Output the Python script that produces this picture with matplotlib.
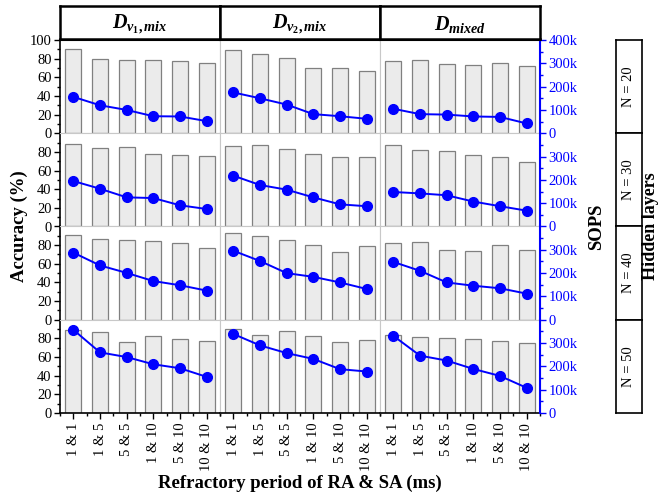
import matplotlib
matplotlib.use('Agg')
import matplotlib.pyplot as plt
from matplotlib.ticker import FixedLocator, FuncFormatter

plt.rcParams['font.family'] = ['Liberation Serif', 'DejaVu Serif']
plt.rcParams['mathtext.fontset'] = 'custom'
plt.rcParams['mathtext.it'] = 'Liberation Serif:italic:bold'
plt.rcParams['mathtext.rm'] = 'Liberation Serif:bold'
plt.rcParams['mathtext.bf'] = 'Liberation Serif:bold'

# ---------------- data ----------------
datasets = [r'$D_{v_1,mix}$', r'$D_{v_2,mix}$', r'$D_{mixed}$']
hidden = ['N = 20', 'N = 30', 'N = 40', 'N = 50']
refractory = ['1 & 1', '1 & 5', '5 & 5', '1 & 10', '5 & 10', '10 & 10']

# accuracy (%) per hidden size: one list per dataset
acc_n20 = [[90, 80, 78.5, 79, 77, 75],
           [89, 84.5, 80.5, 70.5, 70.5, 66.5],
           [78, 79, 74, 73, 75.5, 72]]
acc_n30 = [[89, 84, 85, 78, 77, 76],
           [86.5, 87, 83.5, 78, 74, 75],
           [87.5, 82, 80.5, 77, 75, 69]]
acc_n40 = [[90.5, 87, 85, 84, 82, 77],
           [92.5, 89.5, 86, 80, 72.5, 79],
           [82, 83.5, 75, 74, 80.5, 75]]
acc_n50 = [[88.5, 86.5, 76.5, 83, 79.5, 77],
           [90.5, 84, 87.5, 83, 76, 78.5],
           [83.5, 81, 80.5, 79, 77, 75]]

# SOPS per hidden size: one list per dataset
sops_n20 = [[156000, 120000, 100000, 73000, 72000, 52000],
            [175000, 150000, 123000, 82000, 73000, 62000],
            [105000, 82000, 80000, 72000, 70000, 42000]]
sops_n30 = [[195000, 162000, 125000, 122000, 91000, 75000],
            [218000, 178000, 158000, 125000, 95000, 87000],
            [148000, 142000, 134000, 107000, 87000, 68000]]
sops_n40 = [[288000, 233000, 201000, 166000, 148000, 125000],
            [296000, 252000, 200000, 184000, 160000, 132000],
            [248000, 210000, 160000, 146000, 135000, 112000]]
sops_n50 = [[357000, 260000, 240000, 209000, 192000, 155000],
            [339000, 290000, 257000, 232000, 188000, 178000],
            [331000, 246000, 225000, 189000, 159000, 108000]]

acc_rows = [acc_n20, acc_n30, acc_n40, acc_n50]
sops_rows = [sops_n20, sops_n30, sops_n40, sops_n50]

# ---------------- layout ----------------
W, H = 659, 498
fig = plt.figure(figsize=(W / 100, H / 100), dpi=100)

def fx(x):
    return x / W

def fy(y):
    return 1 - y / H

left, right, top, bottom = 60, 540, 40, 413
ncol, nrow = 3, 4
pw = (right - left) / ncol
ph = (bottom - top) / nrow

BLUE = '#0000ff'
GREY = '#c8c8c8'
TICKFS = 10.5
xpos = [i + 0.5 for i in range(len(refractory))]

for r in range(nrow):
    for c in range(ncol):
        x0 = left + c * pw
        y0 = top + r * ph
        ax = fig.add_axes([fx(x0), fy(y0 + ph), pw / W, ph / H])
        ax.bar(xpos, acc_rows[r][c], width=0.6, color='#ebebeb',
               edgecolor='#808080', linewidth=0.9, zorder=2)
        ax.set_xlim(0, 6)
        ax.set_ylim(0, 100)
        for s in ax.spines.values():
            s.set_color(GREY)
            s.set_linewidth(0.8)
        # left axis
        if c == 0:
            ax.spines['left'].set_color('black')
            ax.spines['left'].set_linewidth(1.2)
            ax.yaxis.set_major_locator(FixedLocator([0, 20, 40, 60, 80, 100] if r == 0 else [0, 20, 40, 60, 80]))
            ax.yaxis.set_minor_locator(FixedLocator([10, 30, 50, 70, 90]))
            ax.tick_params(axis='y', which='major', direction='out', length=4, width=1,
                           labelsize=TICKFS, pad=2)
            ax.tick_params(axis='y', which='minor', direction='out', length=2.5, width=1)
        else:
            ax.set_yticks([])
        # bottom axis
        if r == nrow - 1:
            ax.spines['bottom'].set_color('black')
            ax.spines['bottom'].set_linewidth(1.2)
            ax.set_xticks(xpos)
            ax.set_xticklabels(refractory, rotation=90, fontsize=TICKFS)
            ax.xaxis.set_minor_locator(FixedLocator([0, 1, 2, 3, 4, 5, 6]))
            ax.tick_params(axis='x', which='major', direction='out', length=4, width=1, pad=3)
            ax.tick_params(axis='x', which='minor', direction='out', length=2.5, width=1)
        else:
            ax.set_xticks([])
        if r == 0:
            ax.spines['top'].set_color('black')
            ax.spines['top'].set_linewidth(1.5)

        ax2 = ax.twinx()
        ax2.plot(xpos, sops_rows[r][c], color=BLUE, linewidth=1.4, marker='o',
                 markersize=7, zorder=3)
        ax2.set_ylim(0, 400000)
        for s in ax2.spines.values():
            s.set_visible(False)
        if c == ncol - 1:
            ax2.spines['right'].set_visible(True)
            ax2.spines['right'].set_color(BLUE)
            ax2.spines['right'].set_linewidth(1.5)
            majors = [0, 100000, 200000, 300000, 400000] if r == 0 else [0, 100000, 200000, 300000]
            ax2.yaxis.set_major_locator(FixedLocator(majors))
            ax2.yaxis.set_minor_locator(FixedLocator([50000, 150000, 250000, 350000]))
            ax2.yaxis.set_major_formatter(FuncFormatter(
                lambda v, p: '0' if v == 0 else f'{int(v / 1000)}k'))
            ax2.tick_params(axis='y', which='major', direction='out', length=4, width=1,
                            colors=BLUE, labelsize=TICKFS, pad=2)
            ax2.tick_params(axis='y', which='minor', direction='out', length=2.5, width=1,
                            colors=BLUE)
        else:
            ax2.set_yticks([])

# column headers
for c in range(ncol):
    hx = left + c * pw
    hax = fig.add_axes([fx(hx), fy(39), pw / W, 33 / H])
    hax.set_xticks([])
    hax.set_yticks([])
    for s in hax.spines.values():
        s.set_linewidth(1.8)
        s.set_color('black')
    hax.text(0.5, 0.45, datasets[c], ha='center', va='center', fontsize=14.5,
             transform=hax.transAxes)

# row boxes
for r in range(nrow):
    y0 = top + r * ph
    rax = fig.add_axes([fx(616), fy(y0 + ph), 26 / W, ph / H])
    rax.set_xticks([])
    rax.set_yticks([])
    for s in rax.spines.values():
        s.set_linewidth(1.2)
        s.set_color('black')
    rax.text(0.5, 0.5, hidden[r], rotation=90, ha='center', va='center',
             fontsize=10.5, transform=rax.transAxes)

# axis labels
fig.text(fx(19), fy(226.5), 'Accuracy (%)', rotation=90, ha='center', va='center',
         fontsize=13.5, fontweight='bold')
fig.text(fx(597), fy(226.5), 'SOPS', rotation=90, ha='center', va='center',
         fontsize=13.5, fontweight='bold')
fig.text(fx(650.5), fy(226.5), 'Hidden layers', rotation=90, ha='center', va='center',
         fontsize=13, fontweight='bold')
fig.text(fx(300), fy(483), 'Refractory period of RA & SA (ms)', ha='center', va='center',
         fontsize=13.5, fontweight='bold')

fig.savefig('out.png', dpi=100)
